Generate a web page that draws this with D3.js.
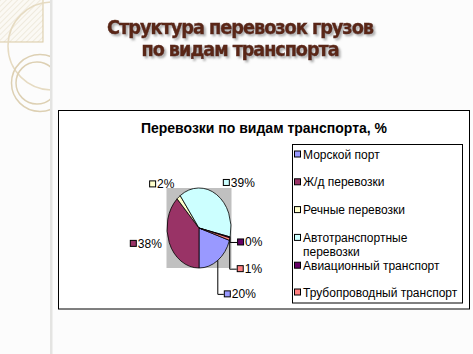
<!DOCTYPE html>
<html lang="ru">
<head>
<meta charset="utf-8">
<title>Структура перевозок грузов</title>
<script src="https://d3js.org/d3.v7.min.js"></script>
<style>
	body { margin: 0; background: #fcfcfc; }
	svg { display: block; }
</style>
</head>
<body>
<div id="chart"></div>
<script>
// slide and chart texts
let slideTitle = ["Структура перевозок грузов", "по видам транспорта"];
let chartTitle = "Перевозки по видам транспорта, %";
// categories (legend order) and their shares, %
let categories = ["Морской порт", "Ж/д перевозки", "Речные перевозки", "Автотранспортные\nперевозки", "Авиационный транспорт", "Трубопроводный транспорт"];
let shares = [20, 38, 2, 38.6, 0.4, 1];
let colors = ["#9999ff", "#993366", "#ffffcc", "#ccffff", "#660066", "#ff8080"];
// label placement for each slice: leader lines for the small ones
let labelNudge = [[6, 34], [3, -4], [3, -2], [0, 0], [7, 5], [7, 30]];
let labelLeader = [true, false, false, false, true, true];

let W = 473, H = 354;
let svg = d3.select("#chart").append("svg")
	.attr("width", W).attr("height", H)
	.style("font-family", "'Liberation Sans', Arial, sans-serif");

svg.append("rect").attr("width", W).attr("height", H).attr("fill", "#fcfcfc");

// left decoration strip
let defs = svg.append("defs");
let pat = defs.append("pattern").attr("id", "hatch")
	.attr("width", 4).attr("height", 4).attr("patternUnits", "userSpaceOnUse")
	.attr("patternTransform", "rotate(45)");
pat.append("rect").attr("width", 4).attr("height", 4).attr("fill", "#fbf9f4");
pat.append("line").attr("x1", 0).attr("y1", 0).attr("x2", 0).attr("y2", 4)
	.attr("stroke", "#ece5d6").attr("stroke-width", 1.5);
defs.append("clipPath").attr("id", "strip").append("rect").attr("width", 51).attr("height", H);
defs.append("filter").attr("id", "shadow")
	.attr("x", "-10%").attr("y", "-30%").attr("width", "120%").attr("height", "160%")
	.append("feDropShadow").attr("dx", 2).attr("dy", 2).attr("stdDeviation", 1)
	.attr("flood-color", "#777").attr("flood-opacity", 0.6);

let deco = svg.append("g").attr("clip-path", "url(#strip)").attr("fill", "none");
deco.append("rect").attr("x", -1).attr("y", -1).attr("width", 44).attr("height", 43)
	.attr("fill", "url(#hatch)").attr("stroke", "#d9c9a3").attr("stroke-width", 1);
deco.append("circle").attr("cx", 52).attr("cy", 46).attr("r", 44)
	.attr("stroke", "#e6dbc2").attr("stroke-width", 1.5);
deco.append("circle").attr("cx", 40).attr("cy", 83).attr("r", 28.5)
	.attr("stroke", "#ddd0b3").attr("stroke-width", 1.5);
deco.append("circle").attr("cx", 37).attr("cy", 83).attr("r", 21)
	.attr("stroke", "#ddd0b3").attr("stroke-width", 1.5);
svg.append("rect").attr("x", 50).attr("y", 0).attr("width", 2.5).attr("height", H).attr("fill", "#e4e4e2");

// slide title
svg.append("g").attr("filter", "url(#shadow)")
	.selectAll("text").data(slideTitle).enter().append("text")
	.attr("x", 240).attr("y", (d, i) => 34 + i * 22)
	.attr("text-anchor", "middle")
	.attr("textLength", (d, i) => i == 0 ? 266 : 197)
	.attr("lengthAdjust", "spacingAndGlyphs")
	.style("font-family", "'DejaVu Sans Condensed', 'DejaVu Sans', sans-serif")
	.style("font-weight", "bold").style("font-size", "19px")
	.style("letter-spacing", "-1px")
	.attr("fill", "#5a2618").attr("stroke", "#5a2618").attr("stroke-width", 0.4)
	.text(d => d);

// chart area
svg.append("rect").attr("x", 58.5).attr("y", 110.5).attr("width", 411).attr("height", 198.5)
	.attr("fill", "#fff").attr("stroke", "#000").attr("stroke-width", 1);
svg.append("text").attr("x", 264).attr("y", 133)
	.attr("text-anchor", "middle")
	.style("font-weight", "bold").style("font-size", "14px")
	.text(chartTitle);

// pie (elliptical)
let cx = 199, cy = 228, rx = 32, ry = 40;
svg.append("rect").attr("x", cx - rx - 0.5).attr("y", cy - ry)
	.attr("width", 2 * rx + 1).attr("height", 2 * ry).attr("fill", "#c0c0c0");

let startA = 108 * Math.PI / 180;
let pie = d3.pie().sort(null).value(d => d).startAngle(startA).endAngle(startA + 2 * Math.PI);
let arcs = pie(shares);
let arc = d3.arc().innerRadius(0).outerRadius(rx);

svg.append("g").attr("transform", `translate(${cx},${cy}) scale(1,${ry / rx})`)
	.selectAll("path").data(arcs).enter().append("path")
	.attr("d", arc)
	.attr("fill", (d, i) => colors[i])
	.attr("stroke", "#000").attr("stroke-width", 0.8)
	.attr("vector-effect", "non-scaling-stroke");

function edge(a, k) {
	return [cx + k * rx * Math.sin(a), cy - k * ry * Math.cos(a)];
}

let labels = svg.append("g").style("font-size", "12px");
arcs.forEach((d, i) => {
	let mid = (d.startAngle + d.endAngle) / 2;
	let txt = Math.round(d.data) + "%";
	let px, py, anchor;
	if (labelLeader[i]) {
		let e = edge(mid, 1);
		px = e[0] + labelNudge[i][0];
		py = e[1] + labelNudge[i][1];
		anchor = "start";
		labels.append("polyline")
			.attr("points", [e, [e[0], py], [px, py]].map(p => p.join(",")).join(" "))
			.attr("fill", "none").attr("stroke", "#000").attr("stroke-width", 1);
	} else {
		let e = edge(mid, 1.35);
		px = e[0] + labelNudge[i][0];
		py = e[1] + labelNudge[i][1];
		anchor = Math.sin(mid) >= 0 ? "start" : "end";
	}
	let t = labels.append("text").attr("y", py + 4).text(txt);
	let tw = t.node().getComputedTextLength();
	let sx = anchor == "start" ? px : px - tw - 8;
	t.attr("x", sx + 8);
	labels.append("rect").attr("x", sx + 0.5).attr("y", py - 3.5)
		.attr("width", 6).attr("height", 6)
		.attr("fill", colors[i]).attr("stroke", "#000").attr("stroke-width", 1);
});

// legend
svg.append("rect").attr("x", 292.5).attr("y", 144.5).attr("width", 170).attr("height", 158.5)
	.attr("fill", "#fff").attr("stroke", "#000").attr("stroke-width", 1);
let legend = svg.append("g").style("font-size", "12px");
categories.forEach((c, i) => {
	let y = 154.5 + i * 27.8 - (i > 4 ? 1 : 0);
	legend.append("rect").attr("x", 294.5).attr("y", y - 3.5)
		.attr("width", 6).attr("height", 6)
		.attr("fill", colors[i]).attr("stroke", "#000").attr("stroke-width", 1);
	c.split("\n").forEach((line, j) => {
		legend.append("text").attr("x", 303).attr("y", y + 4 + j * 14.5).text(line);
	});
});
</script>
</body>
</html>
